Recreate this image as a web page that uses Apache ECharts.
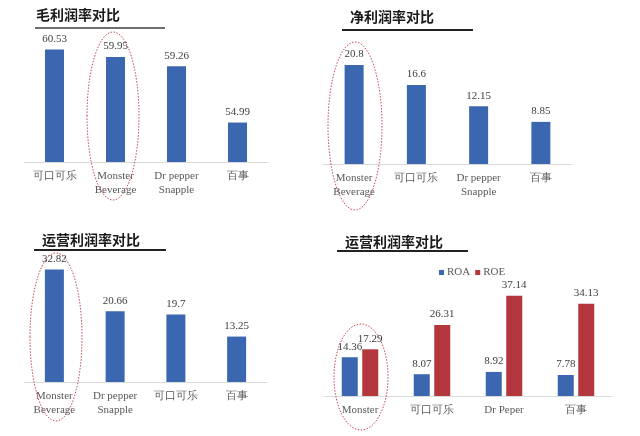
<!DOCTYPE html>
<html>
<head>
<meta charset="utf-8">
<script src="https://cdn.jsdelivr.net/npm/echarts@6/dist/echarts.min.js"></script>
<style>
  html, body { margin: 0; padding: 0; background: #fff; }
  #main { width: 640px; height: 436px; }
</style>
</head>
<body>
<div id="main"></div>
<script type="text/javascript">
	// 毛利润率
	var grossCats = ['可口可乐', 'Monster\nBeverage', 'Dr pepper\nSnapple', '百事'];
	var grossVals = [60.53, 59.95, 59.26, 54.99];
	// 净利润率
	var netCats = ['Monster\nBeverage', '可口可乐', 'Dr pepper\nSnapple', '百事'];
	var netVals = [20.8, 16.6, 12.15, 8.85];
	// 运营利润率
	var opCats = ['Monster\nBeverage', 'Dr pepper\nSnapple', '可口可乐', '百事'];
	var opVals = [32.82, 20.66, 19.7, 13.25];
	// ROA / ROE
	var retCats = ['Monster', '可口可乐', 'Dr Peper', '百事'];
	var roaVals = [14.36, 8.07, 8.92, 7.78];
	var roeVals = [17.29, 26.31, 37.14, 34.13];

	var titles = ['毛利润率对比', '净利润率对比', '运营利润率对比', '运营利润率对比'];

	var BLUE = '#3b67b1';
	var RED = '#b3373c';
	var SERIF = '"Liberation Serif", "DejaVu Serif", serif';
	var CJK = '"Noto Sans CJK SC", sans-serif';

	var myChart = echarts.init(document.getElementById('main'));

	function xAxisOf(idx, data) {
		return {
			type: 'category',
			gridIndex: idx,
			data: data,
			axisTick: { show: false },
			axisLine: { lineStyle: { color: '#d9d9d9', width: 1 } },
			axisLabel: {
				interval: 0,
				margin: 7,
				color: '#595959',
				fontFamily: SERIF,
				fontSize: 11,
				lineHeight: 14
			}
		};
	}
	function yAxisOf(idx, min, max) {
		return {
			type: 'value',
			gridIndex: idx,
			min: min,
			max: max,
			show: false,
			splitLine: { show: false }
		};
	}
	function barLabel() {
		return {
			show: true,
			position: 'top',
			distance: 5,
			color: '#404040',
			fontFamily: SERIF,
			fontSize: 11
		};
	}
	function ellipse(cx, cy, rx, ry) {
		return {
			type: 'ellipse',
			shape: { cx: cx, cy: cy, rx: rx, ry: ry },
			style: { fill: 'none', stroke: '#c84a55', lineWidth: 1, lineDash: [1.5, 1.5] },
			z: 100
		};
	}
	function underline(x1, x2, y, color) {
		return {
			type: 'line',
			shape: { x1: x1, y1: y, x2: x2, y2: y },
			style: { stroke: color, lineWidth: 2 }
		};
	}

	var option = {
		backgroundColor: '#fff',
		animation: false,
		title: [
			{ text: titles[0], left: 31, top: 3 },
			{ text: titles[1], left: 345, top: 5 },
			{ text: titles[2], left: 37, top: 228 },
			{ text: titles[3], left: 340, top: 230 }
		].map(function (t) {
			t.textStyle = { fontFamily: CJK, fontSize: 14, fontWeight: 'bold', color: '#1a1a1a' };
			return t;
		}),
		legend: {
			data: ['ROA', 'ROE'],
			left: 434,
			top: 262,
			icon: 'rect',
			itemWidth: 5,
			itemHeight: 5,
			itemGap: 5,
			textStyle: { fontFamily: SERIF, fontSize: 11, color: '#595959', padding: [0, 0, 0, -2] }
		},
		grid: [
			{ left: 24, top: 30, width: 244, height: 132 },
			{ left: 323, top: 45, width: 249, height: 119 },
			{ left: 24, top: 262, width: 243, height: 120 },
			{ left: 324, top: 288, width: 288, height: 108 }
		],
		xAxis: [
			xAxisOf(0, grossCats),
			xAxisOf(1, netCats),
			xAxisOf(2, opCats),
			xAxisOf(3, retCats)
		],
		yAxis: [
			yAxisOf(0, 52, 62),
			yAxisOf(1, 0, 25),
			yAxisOf(2, 0, 35),
			yAxisOf(3, 0, 40)
		],
		series: [
			{ type: 'bar', xAxisIndex: 0, yAxisIndex: 0, data: grossVals, barWidth: 19, itemStyle: { color: BLUE }, label: barLabel() },
			{ type: 'bar', xAxisIndex: 1, yAxisIndex: 1, data: netVals, barWidth: 19, itemStyle: { color: BLUE }, label: barLabel() },
			{ type: 'bar', xAxisIndex: 2, yAxisIndex: 2, data: opVals, barWidth: 19, itemStyle: { color: BLUE }, label: barLabel() },
			{ name: 'ROA', type: 'bar', xAxisIndex: 3, yAxisIndex: 3, data: roaVals, barWidth: 16, barGap: '28%', itemStyle: { color: BLUE }, label: barLabel() },
			{ name: 'ROE', type: 'bar', xAxisIndex: 3, yAxisIndex: 3, data: roeVals, barWidth: 16, barGap: '28%', itemStyle: { color: RED }, label: barLabel() }
		],
		graphic: [
			underline(35, 165, 28, '#6e6e6e'),
			underline(342, 473, 30, '#222'),
			underline(34, 166, 250, '#222'),
			underline(337, 468, 251, '#222'),
			ellipse(113, 116, 26, 84),
			ellipse(355, 126, 27, 84),
			ellipse(56, 337, 26, 84),
			ellipse(361, 377, 27, 53)
		]
	};
	myChart.setOption(option);
	window.onresize = myChart.resize;
</script>
</body>
</html>
